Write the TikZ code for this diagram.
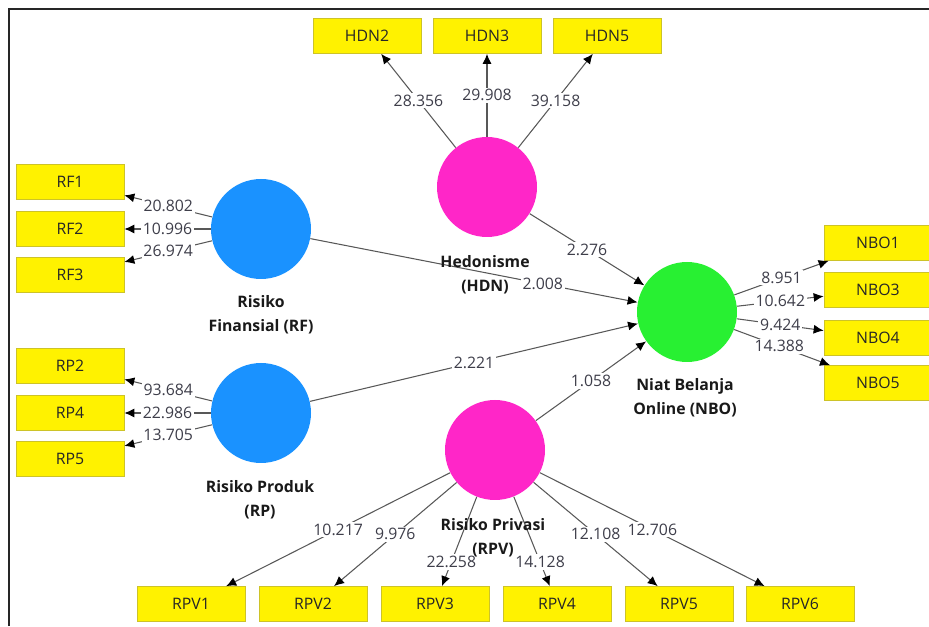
\documentclass[tikz,border=0pt]{standalone}
\usepackage{fontspec}
\setmainfont{Open Sans}
\usetikzlibrary{arrows.meta}
\definecolor{rfblue}{RGB}{26,146,255}
\definecolor{hdnpink}{RGB}{255,38,200}
\definecolor{nbogreen}{RGB}{40,240,50}
\definecolor{boxline}{RGB}{205,195,40}
\definecolor{numgray}{RGB}{62,62,74}
\definecolor{edgegray}{RGB}{88,88,88}

\begin{document}
\begin{tikzpicture}[
	lv/.style={circle, minimum size=2cm, inner sep=0pt},
	ind/.style={draw=boxline, fill=yellow, minimum width=2.16cm, minimum height=0.7cm, inner sep=0pt, text=black!85, font=\fontsize{9}{11}\selectfont},
	link/.style={draw=edgegray, line width=0.6pt, -{Latex[length=2mm,width=1.8mm,color=black]}},
	wt/.style={fill=white, inner sep=1pt, text=numgray, font=\fontsize{9}{11}\selectfont},
	lvname/.style={align=center, text=black!90, font=\bfseries\fontsize{9}{13.6}\selectfont}]
	\useasboundingbox (0,0) rectangle (18.58,12.52);
	\draw [line width=1.2pt, black!85] (0.18,0) -- (0.18,12.34) -- (18.58,12.34);
	\node [lv, fill=rfblue] (RF) at (5.22,7.94) {};
	\node [lv, fill=rfblue] (RP) at (5.22,4.26) {};
	\node [lv, fill=hdnpink] (HDN) at (9.74,8.78) {};
	\node [lv, fill=nbogreen] (NBO) at (13.74,6.28) {};
	\node [lv, fill=hdnpink] (RPV) at (9.90,3.52) {};
	\node [ind] (RF1) at (1.40,8.88) {RF1};
	\node [ind] (RF2) at (1.40,7.94) {RF2};
	\node [ind] (RF3) at (1.40,7.02) {RF3};
	\node [ind] (RP2) at (1.40,5.20) {RP2};
	\node [ind] (RP4) at (1.40,4.26) {RP4};
	\node [ind] (RP5) at (1.40,3.34) {RP5};
	\node [ind] (HDN2) at (7.34,11.80) {HDN2};
	\node [ind] (HDN3) at (9.74,11.80) {HDN3};
	\node [ind] (HDN5) at (12.14,11.80) {HDN5};
	\node [ind] (NBO1) at (17.56,7.66) {NBO1};
	\node [ind] (NBO3) at (17.56,6.72) {NBO3};
	\node [ind] (NBO4) at (17.56,5.76) {NBO4};
	\node [ind] (NBO5) at (17.56,4.86) {NBO5};
	\node [ind] (RPV1) at (3.82,0.44) {RPV1};
	\node [ind] (RPV2) at (6.26,0.44) {RPV2};
	\node [ind] (RPV3) at (8.70,0.44) {RPV3};
	\node [ind] (RPV4) at (11.14,0.44) {RPV4};
	\node [ind] (RPV5) at (13.58,0.44) {RPV5};
	\node [ind] (RPV6) at (16.00,0.44) {RPV6};
	\draw [link] (RF) -- node [wt] {20.802} (RF1);
	\draw [link] (RF) -- node [wt] {10.996} (RF2);
	\draw [link] (RF) -- node [wt] {26.974} (RF3);
	\draw [link] (RP) -- node [wt] {93.684} (RP2);
	\draw [link] (RP) -- node [wt] {22.986} (RP4);
	\draw [link] (RP) -- node [wt] {13.705} (RP5);
	\draw [link] (HDN) -- node [wt] {28.356} (HDN2);
	\draw [link] (HDN) -- node [wt] {29.908} (HDN3);
	\draw [link] (HDN) -- node [wt] {39.158} (HDN5);
	\draw [link] (NBO) -- node [wt] {8.951} (NBO1);
	\draw [link] (NBO) -- node [wt] {10.642} (NBO3);
	\draw [link] (NBO) -- node [wt] {9.424} (NBO4);
	\draw [link] (NBO) -- node [wt, pos=0.47] {14.388} (NBO5);
	\draw [link] (RPV) -- node [wt] {10.217} (RPV1);
	\draw [link] (RPV) -- node [wt] {9.976} (RPV2);
	\draw [link] (RPV) -- node [wt, pos=0.73] {22.258} (RPV3);
	\draw [link] (RPV) -- node [wt, pos=0.73] {14.128} (RPV4);
	\draw [link] (RPV) -- node [wt] {12.108} (RPV5);
	\draw [link] (RPV) -- node [wt] {12.706} (RPV6);
	\draw [link] (HDN) -- node [wt] {2.276} (NBO);
	\draw [link] (RF) -- node [wt, pos=0.71] {2.008} (NBO);
	\draw [link] (RP) -- node [wt] {2.221} (NBO);
	\draw [link] (RPV) -- node [wt] {1.058} (NBO);
	\node [lvname] (RFname) at (5.22,6.22) {Risiko\\Finansial (RF)};
	\node [lvname] (RPname) at (5.20,2.52) {Risiko Produk\\(RP)};
	\node [lvname] (HDNname) at (9.70,7.02) {Hedonisme\\(HDN)};
	\node [lvname] (NBOname) at (13.70,4.56) {Niat Belanja\\Online (NBO)};
	\node [lvname] (RPVname) at (9.86,1.76) {Risiko Privasi\\(RPV)};
\end{tikzpicture}
\end{document}
